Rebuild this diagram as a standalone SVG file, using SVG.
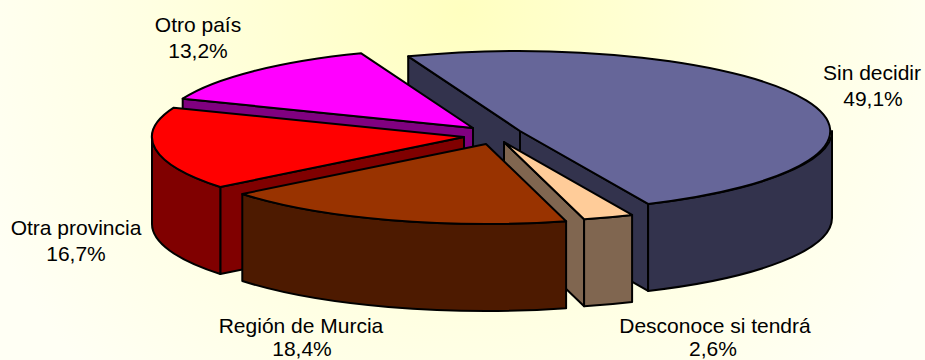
<svg xmlns="http://www.w3.org/2000/svg" width="925" height="360" viewBox="0 0 925 360">
  <defs>
    <radialGradient id="bg" gradientUnits="userSpaceOnUse" cx="462" cy="10" r="520">
      <stop offset="0" stop-color="#FFFFC0"/>
      <stop offset="0.6" stop-color="#FFFFE2"/>
      <stop offset="1" stop-color="#FFFFF4"/>
    </radialGradient>
    <style>
      .e { stroke: #000; stroke-width: 2; stroke-linejoin: round; }
      .lbl { font-family: "Liberation Sans", Arial, sans-serif; font-size: 21px; fill: #000; text-anchor: middle; }
    </style>
  </defs>
  <rect x="0" y="0" width="925" height="360" fill="url(#bg)"/>

  <g id="slice-sin-decidir">
    <path class="e" fill="#33334D" d="M520,131 L408.2,56.3 L408.2,143.3 L520,218 Z"/>
    <path class="e" fill="#33334D" d="M520,131 L648.1,203.9 L648.1,290.9 L520,218 Z"/>
    <path class="e" fill="#33334D" d="M832,131 A312,80 0 0,1 648.1,203.9 L648.1,290.9 A312,80 0 0,0 832,218 Z"/>
    <path class="e" fill="#666699" d="M520,131 L408.2,56.3 A312,80 0 0,1 648.1,203.9 Z"/>
  </g>

  <g id="slice-otro-pais">
    <path class="e" fill="#800080" d="M473,128 L182.7,98.7 L182.7,185.7 L473,215 Z"/>
    <path class="e" fill="#FF00FF" d="M473,128 L182.7,98.7 A312,80 0 0,1 361.2,53.3 Z"/>
  </g>

  <g id="slice-otra-provincia">
    <path class="e" fill="#800000" d="M464,137 L220.3,187 L220.3,274 L464,224 Z"/>
    <path class="e" fill="#800000" d="M220.3,187 A312,80 0 0,1 152,137 L152,224 A312,80 0 0,0 220.3,274 Z"/>
    <path class="e" fill="#FF0000" d="M464,137 L220.3,187 A312,80 0 0,1 173.7,107.7 Z"/>
  </g>

  <g id="slice-desconoce">
    <path class="e" fill="#806650" d="M504,142 L584.1,219.3 L584.1,306.3 L504,229 Z"/>
    <path class="e" fill="#806650" d="M632.1,214.9 A312,80 0 0,1 584.1,219.3 L584.1,306.3 A312,80 0 0,0 632.1,301.9 Z"/>
    <path class="e" fill="#FFCC99" d="M504,142 L632.1,214.9 A312,80 0 0,1 584.1,219.3 Z"/>
  </g>

  <g id="slice-region-murcia">
    <path class="e" fill="#4D1A00" d="M566.1,221.3 A312,80 0 0,1 242.3,194 L242.3,281 A312,80 0 0,0 566.1,308.3 Z"/>
    <path class="e" fill="#993300" d="M486,144 L566.1,221.3 A312,80 0 0,1 242.3,194 Z"/>
  </g>

  <g id="labels">
    <text class="lbl" x="198" y="32">Otro país</text>
    <text class="lbl" x="198" y="58">13,2%</text>
    <text class="lbl" x="872" y="80">Sin decidir</text>
    <text class="lbl" x="873" y="106">49,1%</text>
    <text class="lbl" x="76" y="235">Otra provincia</text>
    <text class="lbl" x="76" y="261">16,7%</text>
    <text class="lbl" x="301" y="333">Región de Murcia</text>
    <text class="lbl" x="302" y="356">18,4%</text>
    <text class="lbl" x="715" y="333">Desconoce si tendrá</text>
    <text class="lbl" x="713" y="356">2,6%</text>
  </g>
</svg>
